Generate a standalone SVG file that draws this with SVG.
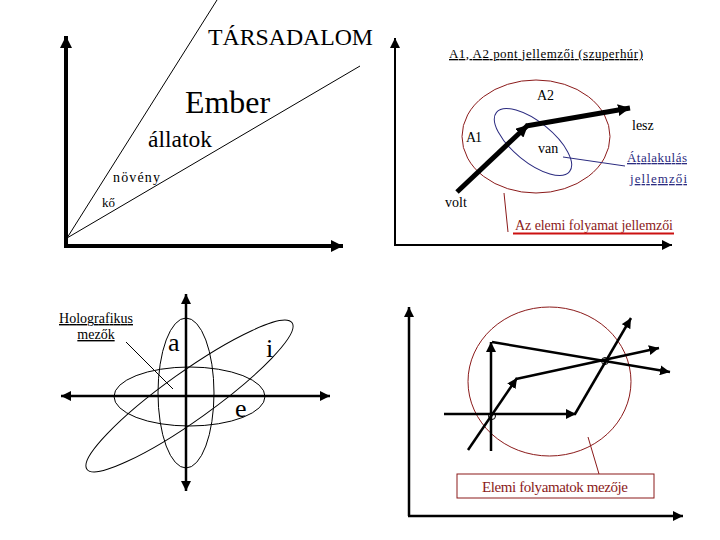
<svg xmlns="http://www.w3.org/2000/svg" width="720" height="540" viewBox="0 0 720 540" font-family="'Liberation Serif','Times New Roman','DejaVu Serif',serif">
<style>
text{font-family:"Liberation Serif","Times New Roman","DejaVu Serif",serif;fill:#000}
.ax{stroke:#000;fill:none}
.thin{stroke:#000;stroke-width:1;fill:none}
.u{text-decoration:underline}
.red{fill:#8b1a1a}
.blue{fill:#2b2b80}
</style>
<defs>
<marker id="ah" markerUnits="userSpaceOnUse" markerWidth="14" markerHeight="12" refX="12" refY="6" orient="auto-start-reverse">
<path d="M0,0 L12,6 L0,12 z" fill="#000"/>
</marker>
<marker id="ahs" markerUnits="userSpaceOnUse" markerWidth="12" markerHeight="10" refX="10" refY="5" orient="auto-start-reverse">
<path d="M0,0 L10,5 L0,10 z" fill="#000"/>
</marker>
</defs>
<rect width="720" height="540" fill="#fff"/>

<!-- Top-left quadrant -->
<g id="q1">
<path class="ax" stroke-width="4" d="M66,246 L66,36" marker-end="url(#ah)"/>
<path class="ax" stroke-width="4" d="M64,246 L343,246" marker-end="url(#ah)"/>
<line class="thin" x1="67" y1="238" x2="217" y2="0"/>
<line class="thin" x1="67" y1="238" x2="360" y2="66"/>
<text x="208" y="45" font-size="24" textLength="165" lengthAdjust="spacingAndGlyphs">TÁRSADALOM</text>
<text x="185" y="113" font-size="32" textLength="85" lengthAdjust="spacingAndGlyphs">Ember</text>
<text x="148" y="147" font-size="24" textLength="64" lengthAdjust="spacingAndGlyphs">állatok</text>
<text x="113" y="182" font-size="14" textLength="47" lengthAdjust="spacing">növény</text>
<text x="102" y="207" font-size="13">kő</text>
</g>

<!-- Top-right quadrant -->
<g id="q2">
<path class="ax" stroke-width="2" d="M395,246 L395,38" marker-end="url(#ahs)"/>
<path class="ax" stroke-width="2" d="M394,245 L672,245" marker-end="url(#ahs)"/>
<text x="449" y="58" font-size="13" class="u" textLength="194" lengthAdjust="spacing">A1, A2 pont jellemzői (szuperhúr)</text>
<ellipse cx="536" cy="136.5" rx="74" ry="56.5" fill="none" stroke="#8b1a1a" stroke-width="1"/>
<ellipse cx="533" cy="142" rx="47" ry="20" transform="rotate(39 533 142)" fill="none" stroke="#2b2b80" stroke-width="1"/>
<path class="ax" stroke-width="5" d="M457,192 L528,125" marker-end="url(#ah)"/>
<path class="ax" stroke-width="5" d="M526,126 L630,108" marker-end="url(#ah)"/>
<text x="537" y="100" font-size="14" textLength="17" lengthAdjust="spacing">A2</text>
<text x="466" y="142" font-size="14" textLength="16" lengthAdjust="spacing">A1</text>
<text x="632" y="130" font-size="14">lesz</text>
<text x="538" y="153" font-size="14">van</text>
<text x="445" y="207" font-size="14">volt</text>
<line x1="563" y1="157" x2="625" y2="166" stroke="#2b2b80" stroke-width="1"/>
<text x="627" y="162" font-size="13" class="u blue" textLength="60" lengthAdjust="spacing">Átalakulás</text>
<text x="630" y="183" font-size="13" class="u blue" textLength="57" lengthAdjust="spacing">jellemzői</text>
<line x1="504" y1="193" x2="508" y2="232" stroke="#8b1a1a" stroke-width="1"/>
<text x="515" y="230" font-size="14" class="red" textLength="158" lengthAdjust="spacing">Az elemi folyamat jellemzői</text>
<line x1="513" y1="233.5" x2="674" y2="233.5" stroke="#cc1111" stroke-width="2"/>
</g>

<!-- Bottom-left quadrant -->
<g id="q3">
<path class="ax" stroke-width="2.5" d="M186,491 L186,294" marker-start="url(#ahs)" marker-end="url(#ahs)"/>
<path class="ax" stroke-width="2.5" d="M61,396 L330,396" marker-start="url(#ahs)" marker-end="url(#ahs)"/>
<ellipse cx="186" cy="393" rx="28" ry="75" class="thin"/>
<ellipse cx="189.5" cy="396.5" rx="75.5" ry="29.5" class="thin"/>
<ellipse cx="189.5" cy="396" rx="126" ry="24" transform="rotate(-35.5 189.5 396)" class="thin"/>
<text x="168" y="351" font-size="26">a</text>
<text x="266" y="357" font-size="26">i</text>
<text x="235" y="417" font-size="26">e</text>
<text x="96" y="323" font-size="14" class="u" text-anchor="middle" textLength="74" lengthAdjust="spacing">Holografikus</text>
<text x="96" y="339" font-size="14" class="u" text-anchor="middle">mezők</text>
<line class="thin" x1="126" y1="342" x2="173" y2="389"/>
</g>

<!-- Bottom-right quadrant -->
<g id="q4">
<path class="ax" stroke-width="2.5" d="M409,516 L409,307" marker-end="url(#ahs)"/>
<path class="ax" stroke-width="2.5" d="M408,516 L683,516" marker-end="url(#ahs)"/>
<ellipse cx="549.5" cy="381.5" rx="81.5" ry="74.5" fill="none" stroke="#8b1a1a" stroke-width="1"/>
<g class="ax" stroke-width="2.5">
<path d="M491,451 L491,342" marker-end="url(#ahs)"/>
<path d="M492,342 L670,372" marker-end="url(#ahs)"/>
<path d="M468,450 L517,378" marker-end="url(#ahs)"/>
<path d="M516,379 L659,348" marker-end="url(#ahs)"/>
<path d="M444,414 L576,414" marker-end="url(#ahs)"/>
<path d="M575,414 L631,318" marker-end="url(#ahs)"/>
</g>
<circle cx="492" cy="416" r="3.5" fill="none" stroke="#000" stroke-width="1"/>
<circle cx="605" cy="361" r="3.5" fill="none" stroke="#000" stroke-width="1"/>
<line x1="588" y1="437" x2="599" y2="474" stroke="#8b1a1a" stroke-width="1"/>
<rect x="457" y="474" width="197" height="24" fill="#fff" stroke="#8b1a1a" stroke-width="1"/>
<text x="555" y="492" font-size="15" class="red" text-anchor="middle" textLength="146" lengthAdjust="spacing">Elemi folyamatok mezője</text>
</g>
</svg>
